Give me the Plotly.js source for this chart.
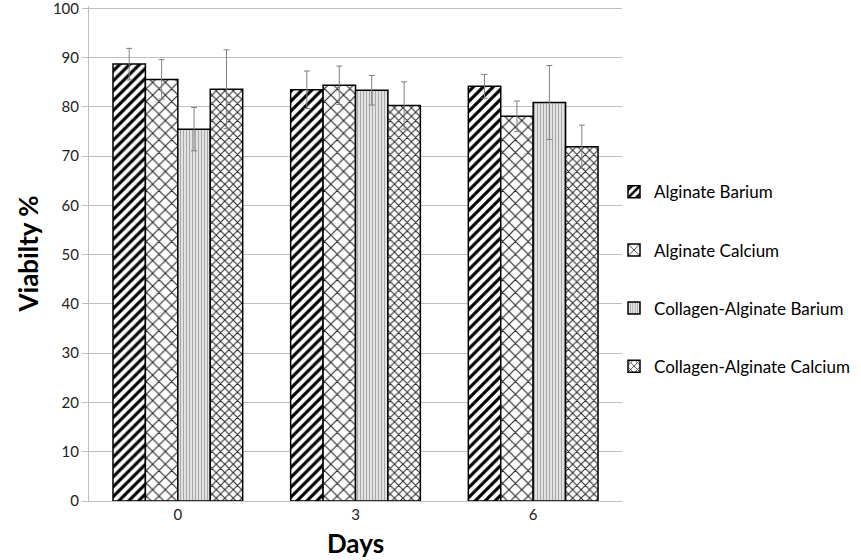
<!DOCTYPE html>
<html>
<head>
<meta charset="utf-8">
<script src="https://cdn.plot.ly/plotly-3.0.1.min.js"></script>
<style>
  body { margin: 0; background: #fff; }
  #chart { width: 861px; height: 560px; }
</style>
</head>
<body>
<div id="chart"></div>
<script>
var days = ['0', '3', '6'];
var yTicks = [0, 10, 20, 30, 40, 50, 60, 70, 80, 90, 100];

var alginateBa = [88.7, 83.5, 84.2];
var alginateBaErr = [3.2, 3.8, 2.4];

var alginateCa = [85.6, 84.4, 78.1];
var alginateCaErr = [4.0, 3.9, 3.1];

var collagenBa = [75.5, 83.4, 80.9];
var collagenBaErr = [4.4, 3.0, 7.5];

var collagenCa = [83.6, 80.3, 71.9];
var collagenCaErr = [8.0, 4.8, 4.4];

var font = 'Lato, "Open Sans", sans-serif';

function makeTrace(name, values, errors, pattern, group) {
  return {
    x: days,
    y: values,
    type: 'bar',
    name: name,
    legendgroup: group,
    marker: {
      color: pattern.bgcolor,
      line: { color: '#000', width: 1.5 },
      pattern: pattern
    },
    error_y: {
      type: 'data',
      array: errors,
      visible: true,
      color: '#808080',
      thickness: 1,
      width: 3
    }
  };
}

var data = [
  makeTrace('Alginate Barium', alginateBa, alginateBaErr,
    { shape: '/', bgcolor: '#fff', fgcolor: '#000', size: 7, solidity: 0.45 }, 'a'),
  makeTrace('Alginate Calcium', alginateCa, alginateCaErr,
    { shape: 'x', bgcolor: '#fff', fgcolor: '#222', size: 9, solidity: 0.22 }, 'b'),
  makeTrace('Collagen-Alginate Barium', collagenBa, collagenBaErr,
    { shape: '|', bgcolor: '#e2e2e2', fgcolor: '#a8a8a8', size: 3, solidity: 0.35 }, 'c'),
  makeTrace('Collagen-Alginate Calcium', collagenCa, collagenCaErr,
    { shape: 'x', bgcolor: '#fff', fgcolor: '#222', size: 6, solidity: 0.3 }, 'd')
];

var layout = {
  width: 861,
  height: 560,
  margin: { l: 89, r: 239, t: 6, b: 59, autoexpand: false },
  paper_bgcolor: '#fff',
  plot_bgcolor: '#fff',
  barmode: 'group',
  bargap: 0.27,
  bargroupgap: 0,
  font: { family: font, color: '#000', size: 15 },
  xaxis: {
    type: 'category',
    showline: true,
    linecolor: '#bfbfbf',
    linewidth: 1,
    ticks: '',
    tickfont: { size: 15, color: '#222' },
    title: { text: 'Days', font: { size: 26, family: font, weight: 'bold' }, standoff: 12 }
  },
  yaxis: {
    range: [0, 100.5],
    tickmode: 'array',
    tickvals: yTicks,
    ticklabeloverflow: 'allow',
    showline: true,
    linecolor: '#bfbfbf',
    gridcolor: '#bfbfbf',
    zeroline: false,
    ticks: 'outside',
    ticklen: 6,
    tickcolor: '#bfbfbf',
    tickfont: { size: 15, color: '#222' },
    title: { text: 'Viabilty %', font: { size: 26, family: font, weight: 'bold' }, standoff: 6 }
  },
  legend: {
    x: 0.985,
    y: 0.66,
    xanchor: 'left',
    yanchor: 'top',
    bgcolor: 'rgba(0,0,0,0)',
    font: { size: 17, color: '#000' },
    tracegroupgap: 33,
    itemwidth: 30
  }
};

Plotly.newPlot('chart', data, layout, { displayModeBar: false });
</script>
</body>
</html>
